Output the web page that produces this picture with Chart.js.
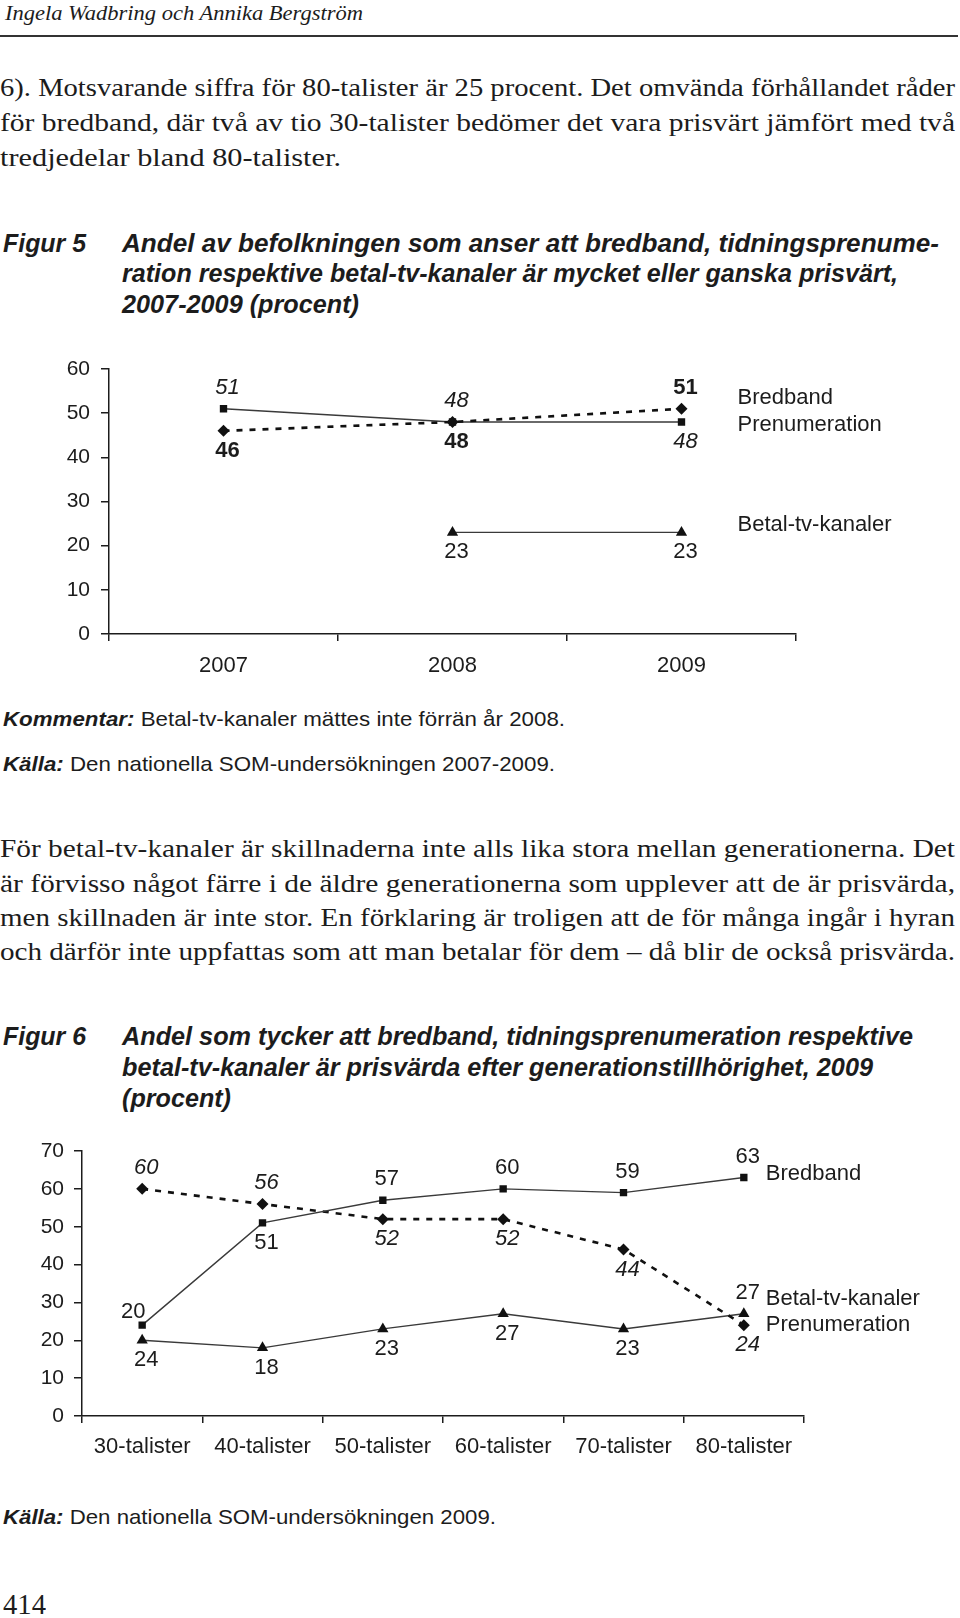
<!DOCTYPE html>
<html>
<head>
<meta charset="utf-8">
<script src="https://cdn.jsdelivr.net/npm/chart.js"></script>
<style>
body { margin: 0; background: #fff; width: 960px; height: 1618px; position: relative; overflow: hidden; color: #1c1c1c; }
.ln { position: absolute; white-space: nowrap; transform-origin: 0 50%; }
.serif { font-family: "Liberation Serif", serif; font-size: 26px; line-height: 34px; }
.head { font-family: "Liberation Serif", serif; font-style: italic; font-size: 22px; line-height: 26px; }
.cap { font-family: "Liberation Sans", Arial, sans-serif; font-weight: bold; font-style: italic; font-size: 25px; line-height: 30px; }
.note { font-family: "Liberation Sans", Arial, sans-serif; font-size: 21px; line-height: 24px; }
.note b { font-style: italic; }
.rule { position: absolute; left: 0; top: 35px; width: 958px; height: 2px; background: #333; }
.chart { position: absolute; left: 0; }
</style>
</head>
<body>
<div class="ln head" style="left:5px;top:0px" data-w="358">Ingela Wadbring och Annika Bergström</div>
<div class="rule"></div>

<div class="ln serif" style="left:0;top:71px" data-w="955">6). Motsvarande siffra för 80-talister är 25 procent. Det omvända förhållandet råder</div>
<div class="ln serif" style="left:0;top:106px" data-w="955">för bredband, där två av tio 30-talister bedömer det vara prisvärt jämfört med två</div>
<div class="ln serif" style="left:0;top:141px" data-w="341">tredjedelar bland 80-talister.</div>

<div class="ln cap" style="left:3px;top:228px" data-w="83">Figur 5</div>
<div class="ln cap" style="left:122px;top:228px" data-w="817">Andel av befolkningen som anser att bredband, tidningsprenume-</div>
<div class="ln cap" style="left:122px;top:258px" data-w="776">ration respektive betal-tv-kanaler är mycket eller ganska prisvärt,</div>
<div class="ln cap" style="left:122px;top:289px" data-w="237">2007-2009 (procent)</div>

<div class="chart" style="top:340px;width:960px;height:350px"><canvas id="fig5" width="960" height="350"></canvas></div>

<div class="ln note" style="left:3px;top:707px" data-w="562"><b>Kommentar:</b> Betal-tv-kanaler mättes inte förrän år 2008.</div>
<div class="ln note" style="left:3px;top:752px" data-w="552"><b>Källa:</b> Den nationella SOM-undersökningen 2007-2009.</div>

<div class="ln serif" style="left:0;top:832px" data-w="955">För betal-tv-kanaler är skillnaderna inte alls lika stora mellan generationerna. Det</div>
<div class="ln serif" style="left:0;top:867px" data-w="955">är förvisso något färre i de äldre generationerna som upplever att de är prisvärda,</div>
<div class="ln serif" style="left:0;top:901px" data-w="955">men skillnaden är inte stor. En förklaring är troligen att de för många ingår i hyran</div>
<div class="ln serif" style="left:0;top:935px" data-w="955">och därför inte uppfattas som att man betalar för dem – då blir de också prisvärda.</div>

<div class="ln cap" style="left:3px;top:1021px" data-w="83">Figur 6</div>
<div class="ln cap" style="left:122px;top:1021px" data-w="791">Andel som tycker att bredband, tidningsprenumeration respektive</div>
<div class="ln cap" style="left:122px;top:1052px" data-w="751">betal-tv-kanaler är prisvärda efter generationstillhörighet, 2009</div>
<div class="ln cap" style="left:122px;top:1083px" data-w="109">(procent)</div>

<div class="chart" style="top:1120px;width:960px;height:360px"><canvas id="fig6" width="960" height="360"></canvas></div>

<div class="ln note" style="left:3px;top:1505px" data-w="493"><b>Källa:</b> Den nationella SOM-undersökningen 2009.</div>
<div class="ln serif" style="left:3px;top:1588px;font-size:30px;line-height:32px" data-w="43">414</div>

<script>
// Figur 5
const years5 = ['2007', '2008', '2009'];
const bredband5 = [46, 48, 51];
const prenum5 = [51, 48, 48];
const betal5 = [null, 23, 23];
const bredband5Text = ['46', '48', '51'];
const prenum5Text = ['51', '48', '48'];
const betal5Text = [null, '23', '23'];

// Figur 6
const gen6 = ['30-talister', '40-talister', '50-talister', '60-talister', '70-talister', '80-talister'];
const bredband6 = [24, 51, 57, 60, 59, 63];
const prenum6 = [60, 56, 52, 52, 44, 24];
const betal6 = [20, 18, 23, 27, 23, 27];
// labels as printed in the original (the 30-talister ones are swapped there)
const bredband6Text = ['20', '51', '57', '60', '59', '63'];
const prenum6Text = ['60', '56', '52', '52', '44', '24'];
const betal6Text = ['24', '18', '23', '27', '23', '27'];

const ink = '#1c1c1c';
const sans = '"Liberation Sans", Arial, sans-serif';

// where each value label sits relative to its point
const offsets = {
    above: [4, -21],
    below: [4, 20],
    aboveLeft: [-9, -13]
};

function fitLines() {
    document.querySelectorAll('.ln[data-w]').forEach(el => {
        const w = el.getBoundingClientRect().width;
        const target = parseFloat(el.dataset.w);
        if (w > 0) el.style.transform = 'scaleX(' + (target / w) + ')';
    });
}

const pointLabels = {
    id: 'pointLabels',
    afterDatasetsDraw(chart) {
        const ctx = chart.ctx;
        chart.data.datasets.forEach((ds, i) => {
            const meta = chart.getDatasetMeta(i);
            meta.data.forEach((pt, j) => {
                const txt = ds.valueText[j];
                if (txt == null) return;
                const off = offsets[ds.labelPos[j]];
                ctx.save();
                ctx.font = ds.labelFont;
                ctx.fillStyle = ink;
                ctx.textAlign = 'center';
                ctx.textBaseline = 'middle';
                ctx.fillText(txt, pt.x + off[0], pt.y + off[1]);
                ctx.restore();
            });
        });
    }
};

const seriesNames = {
    id: 'seriesNames',
    afterDraw(chart, args, opts) {
        const ctx = chart.ctx;
        ctx.save();
        ctx.font = '22px ' + sans;
        ctx.fillStyle = ink;
        ctx.textAlign = 'left';
        ctx.textBaseline = 'middle';
        chart.data.datasets.forEach((ds, i) => {
            const meta = chart.getDatasetMeta(i);
            const last = meta.data[meta.data.length - 1];
            ctx.fillText(ds.label, last.x + opts.dx, last.y + ds.nameDy);
        });
        ctx.restore();
    }
};

function axes(max, yWidth, xHeight, xPad, yPad) {
    return {
        x: {
            offset: true,
            grid: { offset: true, drawOnChartArea: false, drawTicks: true, tickLength: 7, color: ink, lineWidth: 1.5 },
            border: { display: true, color: ink, width: 1.5 },
            ticks: { color: ink, font: { family: sans, size: 22 }, padding: xPad, maxRotation: 0 },
            afterFit(s) { s.height = xHeight; }
        },
        y: {
            min: 0,
            max: max,
            ticks: { stepSize: 10, color: ink, font: { family: sans, size: 21 }, padding: yPad },
            grid: { drawOnChartArea: false, drawTicks: true, tickLength: 8, color: ink, lineWidth: 1.5 },
            border: { display: true, color: ink, width: 1.5 },
            afterFit(s) { s.width = yWidth; }
        }
    };
}

function solid(label, data, text, pos, style, radius, font, nameDy) {
    return {
        label: label, data: data, valueText: text, labelPos: pos, labelFont: font, nameDy: nameDy,
        borderColor: '#3a3a3a', borderWidth: 1.4, pointStyle: style, pointRadius: radius,
        pointBackgroundColor: '#111', pointBorderColor: '#111', pointBorderWidth: 0,
        spanGaps: false, tension: 0
    };
}

function dashed(label, data, text, pos, font, nameDy) {
    return {
        label: label, data: data, valueText: text, labelPos: pos, labelFont: font, nameDy: nameDy,
        borderColor: '#111', borderWidth: 2.6, borderDash: [6, 7], pointStyle: 'rectRot', pointRadius: 6,
        pointBackgroundColor: '#111', pointBorderColor: '#111', pointBorderWidth: 0, tension: 0
    };
}

function makeCharts() {
    fitLines();

    new Chart(document.getElementById('fig5'), {
        type: 'line',
        data: {
            labels: years5,
            datasets: [
                dashed('Bredband', bredband5, bredband5Text, ['below', 'below', 'above'], 'bold 22px ' + sans, -11),
                solid('Prenumeration', prenum5, prenum5Text, ['above', 'above', 'below'], 'rect', 5.2, 'italic 22px ' + sans, 3),
                solid('Betal-tv-kanaler', betal5, betal5Text, [null, 'below', 'below'], 'triangle', 6.5, '22px ' + sans, -7)
            ]
        },
        options: {
            responsive: false,
            animation: false,
            layout: { padding: { left: 0, right: 164, top: 29, bottom: 0 } },
            plugins: { legend: { display: false }, tooltip: { enabled: false }, seriesNames: { dx: 56 } },
            scales: axes(60, 109, 56, 12, 11)
        },
        plugins: [pointLabels, seriesNames]
    });

    new Chart(document.getElementById('fig6'), {
        type: 'line',
        data: {
            labels: gen6,
            datasets: [
                solid('Bredband', bredband6, bredband6Text, ['aboveLeft', 'below', 'above', 'above', 'above', 'above'], 'rect', 5.2, '22px ' + sans, -4),
                dashed('Prenumeration', prenum6, prenum6Text, ['above', 'above', 'below', 'below', 'below', 'below'], 'italic 22px ' + sans, 0),
                solid('Betal-tv-kanaler', betal6, betal6Text, ['below', 'below', 'below', 'below', 'below', 'above'], 'triangle', 6.5, '22px ' + sans, -15)
            ]
        },
        options: {
            responsive: false,
            animation: false,
            layout: { padding: { left: 0, right: 156, top: 31, bottom: 0 } },
            plugins: { legend: { display: false }, tooltip: { enabled: false }, seriesNames: { dx: 22 } },
            scales: axes(70, 82, 64, 11, 10)
        },
        plugins: [pointLabels, seriesNames]
    });
}

window.onload = makeCharts;
</script>
</body>
</html>
